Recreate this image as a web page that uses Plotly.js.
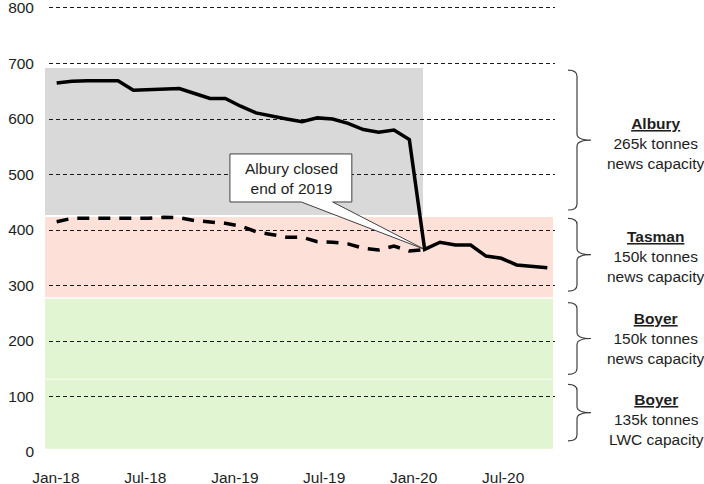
<!DOCTYPE html>
<html>
<head>
<meta charset="utf-8">
<script src="https://cdn.plot.ly/plotly-3.0.1.min.js"></script>
<style>
html,body{margin:0;padding:0;background:#fff;}
#chart{width:704px;height:484px;}
</style>
</head>
<body>
<div id="chart"></div>
<script>
// ---- data ----
const months = ['Jan-18','Feb-18','Mar-18','Apr-18','May-18','Jun-18','Jul-18','Aug-18','Sep-18','Oct-18','Nov-18','Dec-18',
  'Jan-19','Feb-19','Mar-19','Apr-19','May-19','Jun-19','Jul-19','Aug-19','Sep-19','Oct-19','Nov-19','Dec-19',
  'Jan-20','Feb-20','Mar-20','Apr-20','May-20','Jun-20','Jul-20','Aug-20','Sep-20'];
const totalSeries = [665,668,669,669,669,652,653,654,655,646,637,637,623,611,605,600,595,602,600,592,581,576,580,563,
  365,378,373,373,353,349,337,334,332];
const tasmanSeries = [415,421,421,421,421,421,421,423,422,417,414,412,407,397,392,387,387,379,378,375,367,364,371,362,365];
const tickLabels = ['Jan-18','Jul-18','Jan-19','Jul-19','Jan-20','Jul-20'];
const tickPositions = [-0.05, 5.78, 11.62, 17.45, 23.28, 29.12];
const yTicks = [0,100,200,300,400,500,600,700,800];
// capacity bands (value bounds, bottom -> top)
const bandNames = ['Boyer LWC','Boyer news','Tasman','Albury'];
const bandLow  = [6, 132, 279, 427];
const bandHigh = [130.5, 276, 423.5, 692];
const bandColors = ['#e2f5d2','#e2f5d2','#fde0d8','#d9d9d9'];
// braces (value extents) and labels
const braceTop    = [122, 269, 421, 688];
const braceBottom = [20, 140, 290, 436];
const labelTitles = ['Boyer','Boyer','Tasman','Albury'];
const labelLine1  = ['135k tonnes','150k tonnes','150k tonnes','265k tonnes'];
const labelLine2  = ['LWC capacity','news capacity','news capacity','news capacity'];
const labelCenters = [58, 205, 353, 555];

const x = months.map((m,i)=>i);
const FONT = 'Arial, "Liberation Sans", sans-serif';
const TXT = '#1e1e1e';

const traces = [
  {x: x.slice(0, tasmanSeries.length), y: tasmanSeries, type:'scatter', mode:'lines',
   line:{color:'#000', width:3.5, dash:'12px,9px'}, hoverinfo:'skip', showlegend:false},
  {x: x, y: totalSeries, type:'scatter', mode:'lines',
   line:{color:'#000', width:3.5}, hoverinfo:'skip', showlegend:false}
];

const shapes = [];
for (let i=0;i<bandLow.length;i++){
  const x1 = i===3 ? (374/506) : (504/506);
  shapes.push({type:'rect', layer:'below', xref:'paper', yref:'y',
    x0:-4/506, x1:x1, y0:bandLow[i], y1:bandHigh[i],
    fillcolor:bandColors[i], line:{width:0}});
}
// braces
const xL = 1 + 13/506, xM = 1 + 22/506, xR = 1 + 36/506;
const r = 11;
for (let i=0;i<braceTop.length;i++){
  const t = braceTop[i], b = braceBottom[i], m = (t+b)/2;
  const p = `M ${xL},${t} Q ${xM},${t} ${xM},${t-r} L ${xM},${m+r} Q ${xM},${m} ${xR},${m} `+
            `Q ${xM},${m} ${xM},${m-r} L ${xM},${b+r} Q ${xM},${b} ${xL},${b}`;
  shapes.push({type:'path', xref:'paper', yref:'y', path:p, layer:'above',
    line:{color:'#404040', width:1.2}});
}
// callout box with tail pointing at the Jan-20 point
const tipX = 24, tipY = totalSeries[24];
const bx0 = 11.3, bx1 = 19.25, by0 = 450.5, by1 = 537, wx0 = 15.95, wx1 = 18.0;
shapes.push({type:'path', xref:'x', yref:'y', layer:'between',
  path:`M ${bx0},${by1} L ${bx1},${by1} L ${bx1},${by0} L ${wx1},${by0} L ${tipX},${tipY} L ${wx0},${by0} L ${bx0},${by0} Z`,
  fillcolor:'#fff', line:{color:'#404040', width:1}});

const annotations = [];
for (let i=0;i<labelTitles.length;i++){
  annotations.push({xref:'paper', yref:'y', x: 1 + 101/506, y: labelCenters[i],
    text:`<b><u>${labelTitles[i]}</u></b><br>${labelLine1[i]}<br>${labelLine2[i]}`,
    showarrow:false, align:'center', xanchor:'center', yanchor:'middle',
    font:{family:FONT, size:15.5, color:TXT}});
}
annotations.push({xref:'x', yref:'y', x:15.3, y:492, text:'Albury closed<br>end of 2019',
  showarrow:false, align:'center', xanchor:'center', yanchor:'middle',
  font:{family:FONT, size:15.5, color:TXT}});

const layout = {
  width:704, height:484,
  margin:{l:49, r:149, t:2, b:32},
  paper_bgcolor:'#fff', plot_bgcolor:'rgba(0,0,0,0)',
  font:{family:FONT, size:15.5, color:TXT},
  showlegend:false,
  xaxis:{range:[-0.5, 32.5], tickvals:tickPositions, ticktext:tickLabels,
    showgrid:false, zeroline:false, showline:false, ticks:'', ticklabelstandoff:14,
    tickfont:{family:FONT, size:15.5, color:TXT}, fixedrange:true},
  yaxis:{range:[0,810.8], tickvals:yTicks, ticktext:yTicks.map(String),
    showgrid:true, gridcolor:'#1a1a1a', gridwidth:1, ticklabeloverflow:'allow',
    griddash:'4px,3px', zeroline:false, showline:false, ticks:'', ticklabelstandoff:14,
    tickfont:{family:FONT, size:15.5, color:TXT}, fixedrange:true},
  shapes:shapes,
  annotations:annotations
};

Plotly.newPlot('chart', traces, layout, {staticPlot:true, displayModeBar:false});
</script>
</body>
</html>
